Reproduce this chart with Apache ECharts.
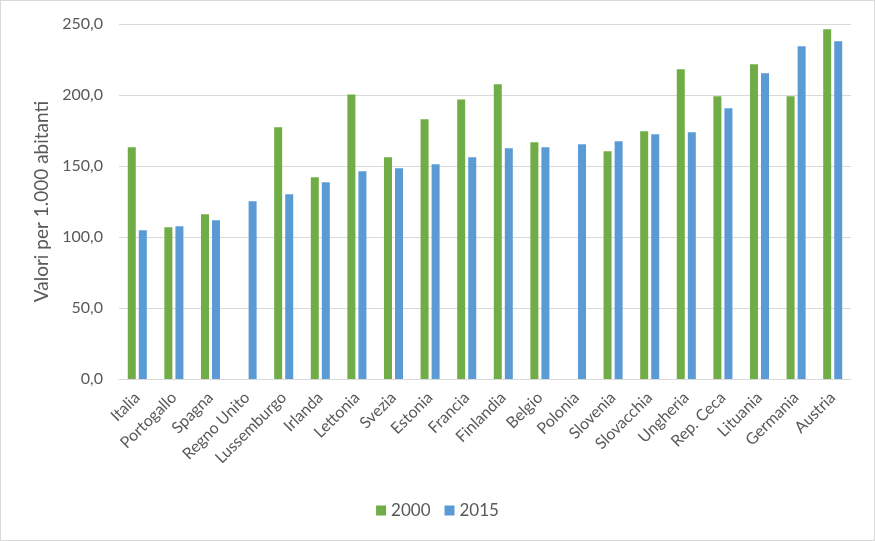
<!DOCTYPE html>
<html><head><meta charset="utf-8">
<script src="https://cdn.jsdelivr.net/npm/echarts@6/dist/echarts.min.js"></script>
<style>
html,body{margin:0;padding:0;background:#fff;}
#c{width:873px;height:539px;border:1px solid #d9d9d9;}
</style></head>
<body><div id="c"></div>
<script>
const categories = ["Italia","Portogallo","Spagna","Regno Unito","Lussemburgo","Irlanda","Lettonia","Svezia","Estonia","Francia","Finlandia","Belgio","Polonia","Slovenia","Slovacchia","Ungheria","Rep. Ceca","Lituania","Germania","Austria"];
const values2000 = [163.2,106.8,116.0,null,177.3,142.0,200.3,156.1,182.9,196.9,207.5,166.7,null,160.4,174.4,218.1,199.1,221.6,199.1,246.3];
const values2015 = [104.7,107.5,111.8,125.1,130.1,138.5,146.3,148.4,151.2,156.1,162.5,163.2,165.3,167.4,172.3,173.7,190.6,215.3,234.3,237.8];
const seriesNames = ["2000","2015"];

const FONT = "Lato";
const chart = echarts.init(document.getElementById('c'));
chart.setOption({
  animation:false,
  textStyle:{fontFamily:FONT},
  grid:{left:118,right:23,top:23,bottom:161},
  legend:{top:496,left:'center',itemWidth:10,itemHeight:10,itemGap:14,icon:'rect',
    textStyle:{color:'#595959',fontSize:17,fontFamily:FONT},data:seriesNames},
  xAxis:{type:'category',data:categories,
    axisLine:{lineStyle:{color:'#d9d9d9'}},axisTick:{show:false},
    axisLabel:{rotate:45,color:'#595959',fontSize:16,fontFamily:FONT,interval:0,margin:16}},
  yAxis:{type:'value',min:0,max:250,interval:50,
    name:'Valori per 1.000 abitanti',nameLocation:'middle',nameGap:68,
    nameTextStyle:{color:'#595959',fontSize:19,fontFamily:FONT},
    axisLabel:{color:'#595959',fontSize:16,fontFamily:FONT,margin:16,
      formatter:v=>v.toFixed(1).replace('.',',')},
    splitLine:{lineStyle:{color:'#d9d9d9',width:1}}},
  series:[
    {name:seriesNames[0],type:'bar',data:values2000,barWidth:8,barGap:'38%',itemStyle:{color:'#70ad47'}},
    {name:seriesNames[1],type:'bar',data:values2015,barWidth:8,itemStyle:{color:'#5b9bd5'}}
  ]
});
</script></body></html>
